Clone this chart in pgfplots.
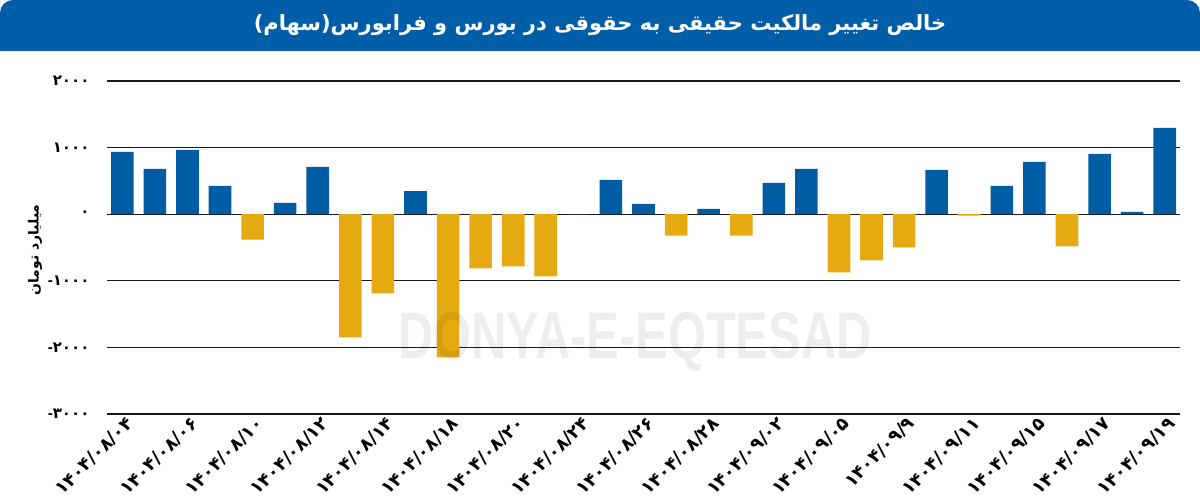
\documentclass[border=0pt]{standalone}
\usepackage{fontspec}
\usepackage{pgfplots}
\pgfplotsset{compat=1.18}
\TeXXeTstate=1
\newfontfamily\fa[Script=Arabic]{DejaVu Sans}
\newfontfamily\wm{Liberation Sans}
\definecolor{tblue}{HTML}{005EA8}
\definecolor{bblue}{HTML}{005DA3}
\definecolor{borange}{HTML}{E5A912}
\pgfplotstableread{
idx val
0 935
1 680
2 965
3 425
4 -380
5 170
6 710
7 -1850
8 -1190
9 345
10 -2150
11 -815
12 -785
13 -935
14 0
15 515
16 155
17 -320
18 80
19 -320
20 470
21 680
22 -875
23 -695
24 -500
25 665
26 -20
27 425
28 785
29 -485
30 905
31 35
32 1295
}\data
\newcommand{\mn}{{\wm\bfseries -}}
\begin{document}
\begin{tikzpicture}[x=1pt,y=1pt]
\useasboundingbox (0,0) rectangle (1200,502);
\fill[white] (0,0) rectangle (1200,502);
\fill[tblue] (0,451) [rounded corners=13pt] -- (0,502) -- (1200,502) [sharp corners] -- (1200,451) -- cycle;
\node[text=white, font=\fa\bfseries\fontsize{21}{21}\selectfont] at (600,477) {\beginR خالص تغییر مالکیت حقیقی به حقوقی در بورس و فرابورس(سهام)\endR};
\node[rotate=90, font=\fa\bfseries\fontsize{14}{14}\selectfont] at (35,252) {\beginR میلیارد تومان\endR};
\begin{axis}[at={(107pt,88pt)}, anchor=south west, scale only axis,
  width=1073pt, height=333pt,
  xmin=-0.47, xmax=32.47, ymin=-3000, ymax=2000,
  axis line style={draw=none}, major tick length=0pt,
  ymajorgrids, grid style={black!90, line width=1.2pt},
  ytick={-3000,-2000,-1000,0,1000,2000},
  yticklabels={{\mn۳۰۰۰},{\mn۲۰۰۰},{\mn۱۰۰۰},۰,۱۰۰۰,۲۰۰۰},
  yticklabel style={anchor=east, xshift=-14pt, font=\fa\bfseries\fontsize{15}{15}\selectfont},
  xtick={0,2,...,32},
  xticklabels={۱۴۰۴/۰۸/۰۴,۱۴۰۴/۰۸/۰۶,۱۴۰۴/۰۸/۱۰,۱۴۰۴/۰۸/۱۲,۱۴۰۴/۰۸/۱۴,۱۴۰۴/۰۸/۱۸,۱۴۰۴/۰۸/۲۰,۱۴۰۴/۰۸/۲۴,۱۴۰۴/۰۸/۲۶,۱۴۰۴/۰۸/۲۸,۱۴۰۴/۰۹/۰۲,۱۴۰۴/۰۹/۰۵,۱۴۰۴/۰۹/۹,۱۴۰۴/۰۹/۱۱,۱۴۰۴/۰۹/۱۵,۱۴۰۴/۰۹/۱۷,۱۴۰۴/۰۹/۱۹},
  xticklabel style={rotate=45, anchor=east, xshift=2pt, yshift=-10pt, inner sep=1pt, font=\fa\bfseries\fontsize{18}{18}\selectfont},
  ybar, bar width=22.6pt, bar shift=0pt,
  clip=false]
\addplot[fill=bblue, draw=none, restrict y to domain=0:10000] table[x=idx,y=val] {\data};
\addplot[fill=borange, draw=none, restrict y to domain=-10000:0] table[x=idx,y=val] {\data};
\end{axis}
\node[opacity=0.07, xscale=0.74, font=\wm\bfseries\fontsize{66}{66}\selectfont] at (635,160) {DONYA-E-EQTESAD};
\end{tikzpicture}
\end{document}
